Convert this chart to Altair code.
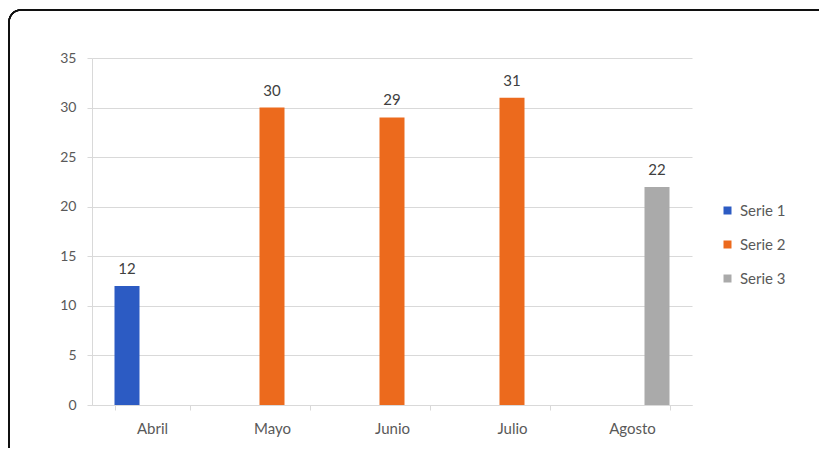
import altair as alt
import pandas as pd
import math

categories = ["Abril", "Mayo", "Junio", "Julio", "Agosto"]
series_names = ["Serie 1", "Serie 2", "Serie 3"]
bar_category = ["Abril", "Mayo", "Junio", "Julio", "Agosto"]
bar_series = ["Serie 1", "Serie 2", "Serie 2", "Serie 2", "Serie 3"]
bar_values = [12, 30, 29, 31, 22]
colors = ["#2C5BC3", "#EC6A1D", "#AAAAAA"]

df = pd.DataFrame({"Mes": bar_category, "Serie": bar_series, "Valor": bar_values})

FONT = "Lato"

x_enc = alt.X(
    "Mes:N",
    sort=categories,
    scale=alt.Scale(domain=categories, paddingInner=0.375, paddingOuter=0.1875),
    axis=alt.Axis(
        title=None, labelAngle=0, tickBand="extent", tickSize=5,
        tickColor="#D9D9D9", domainColor="#D9D9D9", labelColor="#595959",
        labelFontSize=15, labelPadding=11, labelFont=FONT, grid=False,
    ),
)
xoff = alt.XOffset("Serie:N", scale=alt.Scale(domain=series_names, paddingInner=0, paddingOuter=0))
y_enc = alt.Y(
    "Valor:Q",
    scale=alt.Scale(domain=[0, 35], nice=False),
    axis=alt.Axis(
        title=None, values=[0, 5, 10, 15, 20, 25, 30, 35], tickSize=5,
        tickColor="#D9D9D9", domainColor="#D9D9D9", gridColor="#D9D9D9",
        labelColor="#595959", labelFontSize=14, labelPadding=11, labelFont=FONT,
    ),
)

bars = alt.Chart(df).mark_bar().encode(
    x=x_enc,
    xOffset=xoff,
    y=y_enc,
    color=alt.Color(
        "Serie:N",
        scale=alt.Scale(domain=series_names, range=colors),
        legend=alt.Legend(
            title=None, orient="none", legendX=628, legendY=145,
            symbolType="square", symbolSize=64, symbolStrokeWidth=0,
            labelFontSize=15, labelColor="#595959", labelFont=FONT,
            rowPadding=18, labelOffset=5,
        ),
    ),
)

labels = alt.Chart(df).mark_text(
    baseline="bottom", dy=-9, fontSize=15, color="#404040", font=FONT
).encode(
    x=alt.X("Mes:N", sort=categories),
    xOffset=xoff,
    y="Valor:Q",
    text="Valor:Q",
)

# decorative chart frame (top and left edges with a rounded corner)
R = 12
top_edge = alt.Chart(df).mark_rule(color="#111111", strokeWidth=1.5).encode(
    x=alt.value(-83 + R), x2=alt.value(760), y=alt.value(-48)
)
left_edge = alt.Chart(df).mark_rule(color="#111111", strokeWidth=1.5).encode(
    x=alt.value(-83), y=alt.value(-48 + R), y2=alt.value(500)
)
corner = alt.Chart(df).mark_arc(
    radius=R + 0.75, radius2=R - 0.75, color="#111111",
    theta=1.5 * math.pi, theta2=2 * math.pi,
).encode(
    x=alt.value(-83 + R), y=alt.value(-48 + R)
)

chart = alt.layer(top_edge, left_edge, corner, bars, labels).properties(
    width=600, height=347,
    autosize=alt.AutoSizeParams(type="none"),
    padding={"left": 84, "top": 50, "right": 127, "bottom": 43},
    background="white",
).configure_view(stroke=None)

chart.save("out.html", embed_options={"renderer": "svg", "actions": False})
